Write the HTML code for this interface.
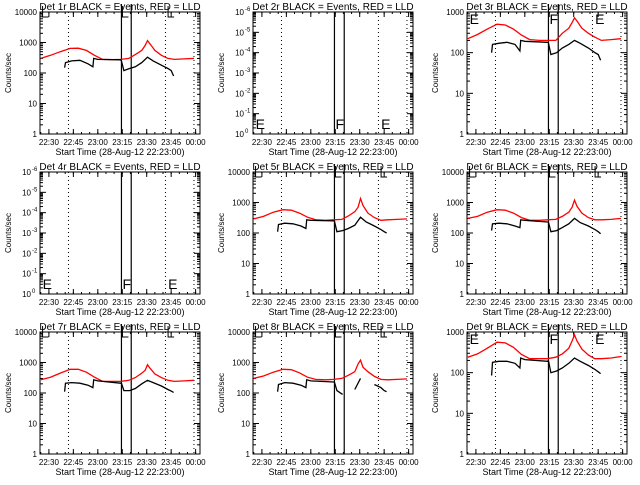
<!DOCTYPE html>
<html><head><meta charset="utf-8"><style>
html,body{margin:0;padding:0;background:#fff;}
svg text{font-family:"Liberation Sans",sans-serif;}
</style></head><body>
<svg id="fig" width="640" height="480" viewBox="0 0 640 480" xmlns="http://www.w3.org/2000/svg"></svg>
<script>
const tickTimes = [7, 22, 37, 52, 67, 82, 97];
const tickLabels = ["22:30", "22:45", "23:00", "23:15", "23:30", "23:45", "00:00"];
const dottedTimes = [19, 78.5, 96];
const solidTimes = [51.5, 57.5];
const blackTimes = [16.6, 17.2, 21, 26, 31, 34, 34.5, 37, 51, 51.5, 53, 56.5, 60, 64, 67.5, 71, 76, 80, 82, 83.5];
const redTimes = [2, 8, 14, 20, 25, 30, 35, 40, 46, 51, 56, 60, 64, 66, 67.5, 69, 72, 76, 80, 84, 90, 96];
const detNames = ["1r","2r","3r","4r","5r","6r","7r","8r","9r"];
const detDecades = [4, 0, 3, 0, 4, 4, 4, 4, 3];
const black1 = [150,220,250,260,200,160,300,280,270,250,120,140,160,220,330,250,180,140,120,80];
const black3 = [100,160,170,180,160,110,200,190,180,175,90,100,130,160,200,170,130,100,90,65];
const black5 = [110,190,210,200,170,140,270,260,250,250,110,120,140,180,330,230,170,130,110,100];
const black6 = [120,200,210,200,170,150,270,260,230,230,110,120,150,200,300,220,170,130,110,95];
const black7 = [110,210,220,210,180,150,270,250,210,210,120,120,140,200,260,220,170,130,115,105];
const black8 = [110,190,220,210,180,150,270,250,230,230,120,90,null,130,300,null,190,150,120,110];
const black9 = [85,180,190,190,170,130,230,210,190,200,100,110,130,170,230,190,150,120,105,95];
const red1 = [300,380,500,640,650,550,380,280,275,280,300,400,550,800,1150,900,550,380,300,280,290,300];
const red3 = [220,280,380,500,480,380,270,210,200,200,200,300,400,550,720,600,400,300,240,200,210,220];
const red5 = [290,350,480,580,560,450,330,270,260,270,280,360,500,700,1350,800,450,320,260,270,280,290];
const red6 = [300,350,480,580,560,450,320,260,260,270,280,350,480,700,1200,750,450,320,270,270,280,300];
const red7 = [270,330,450,600,600,480,330,240,240,240,260,320,450,550,850,650,420,320,260,240,250,260];
const red8 = [300,360,480,600,580,460,330,280,270,280,300,380,500,900,1200,700,500,350,280,270,280,290];
const red9 = [240,290,400,560,540,420,280,220,220,220,240,290,400,600,850,600,380,270,220,220,230,250];
const blackSeries = [black1,null,black3,null,black5,black6,black7,black8,black9];
const redSeries = [red1,null,red3,null,red5,red6,red7,red8,red9];

const NS = "http://www.w3.org/2000/svg";
const svg = document.getElementById("fig");
const BL=40, BR=200, BT=12, BB=134;
function mk(tag, attrs, parent){const e=document.createElementNS(NS,tag);for(const k in attrs)e.setAttribute(k,attrs[k]);parent.appendChild(e);return e;}
function xOf(t){return 37.5 + t*1.63;}

for(let p=0;p<9;p++){
  const col=p%3,row=Math.floor(p/3);
  const ox=[0,213,427][col], oy=row*160;
  const dec=detDecades[p];
  const yOf = v => BB - Math.log10(v)/dec*(BB-BT);
  const g=mk("g",{transform:`translate(${ox},${oy})`},svg);
  
  
  const clipId="clip"+p;
  const cp=mk("clipPath",{id:clipId},g);
  mk("rect",{x:BL,y:BT,width:BR-BL,height:BB-BT},cp);
  const title=mk("text",{x:120,y:10,"font-size":"10","text-anchor":"middle"},g);
  title.textContent=`Det ${detNames[p]} BLACK = Events, RED = LLD`;
  
  
  const yt=mk("text",{x:0,y:0,"font-size":"8","text-anchor":"middle",transform:"translate(11,73) rotate(-90)"},g);
  yt.textContent="Counts/sec";
  
  
  const xt=mk("text",{x:120,y:155,"font-size":"9","text-anchor":"middle"},g);
  xt.textContent="Start Time (28-Aug-12 22:23:00)";
  
  
  // x ticks
  for(let t=2;t<=100;t+=5){const x=xOf(t);if(x<BL||x>BR)continue;
    mk("line",{x1:x,y1:BB,x2:x,y2:BB-2,stroke:"#000"},g);mk("line",{x1:x,y1:BT,x2:x,y2:BT+2,stroke:"#000"},g);}
  tickTimes.forEach((t,i)=>{const x=xOf(t);
    mk("line",{x1:x,y1:BB,x2:x,y2:BB-5,stroke:"#000"},g);mk("line",{x1:x,y1:BT,x2:x,y2:BT+5,stroke:"#000"},g);
    const tl=mk("text",{x:x,y:145,"font-size":"8","text-anchor":"middle"},g);tl.textContent=tickLabels[i];
    
    });
  // y ticks
  if(dec>0){
    for(let d=0;d<=dec;d++){const y=yOf(Math.pow(10,d));
      mk("line",{x1:BL,y1:y,x2:BL+6,y2:y,stroke:"#000"},g);mk("line",{x1:BR,y1:y,x2:BR-6,y2:y,stroke:"#000"},g);
      const lab=mk("text",{x:37,y:y+3,"font-size":"8","text-anchor":"end"},g);lab.textContent=String(Math.pow(10,d));
      
      
      if(d<dec)for(let m=2;m<10;m++){const ym=yOf(m*Math.pow(10,d));
        mk("line",{x1:BL,y1:ym,x2:BL+3,y2:ym,stroke:"#000"},g);mk("line",{x1:BR,y1:ym,x2:BR-3,y2:ym,stroke:"#000"},g);}}
  } else {
    for(let d=0;d<=6;d++){const y=BB-d*(BB-BT)/6;
      mk("line",{x1:BL,y1:y,x2:BL+6,y2:y,stroke:"#000"},g);mk("line",{x1:BR,y1:y,x2:BR-6,y2:y,stroke:"#000"},g);
      const lab=mk("text",{x:31,y:y+3,"font-size":"8","text-anchor":"end"},g);lab.textContent="10";
      
      
      const sup=mk("text",{x:32,y:y-1,"font-size":"6"},g);sup.textContent=d===0?"0":"-"+d;
      if(d<6)for(let m=1;m<9;m++){const ym=y-(BB-BT)/6*Math.log10(m+1);
        mk("line",{x1:BL,y1:ym,x2:BL+3,y2:ym,stroke:"#000"},g);mk("line",{x1:BR,y1:ym,x2:BR-3,y2:ym,stroke:"#000"},g);}}
  }
  // box
  const box=mk("rect",{x:BL,y:BT,width:BR-BL,height:BB-BT,fill:"none",stroke:"#000","stroke-width":"1"},g);
  
  
  dottedTimes.forEach(t=>{const x=xOf(t);const l=mk("line",{x1:x,y1:BT,x2:x,y2:BB,stroke:"#000","stroke-dasharray":"1,3"},g);
    
    });
  solidTimes.forEach(t=>{const x=xOf(t);const l=mk("line",{x1:x,y1:dec>0?4:BT,x2:x,y2:BB,stroke:"#000","stroke-width":"1.2"},g);
    
    });
  // E F E markers
  const mt=[2.5,51.5,79.5], ml=["E","F","E"];
  mt.forEach((t,i)=>{const x=xOf(t)+1;
    if(dec===4){mk("path",{d:`M${x} 6 V17 H${x+6}`,fill:"none",stroke:"#000"},g);}
    else {const yy=dec===0?129:24;const m=mk("text",{x:x,y:yy,"font-size":"14"},g);m.textContent=ml[i];
      
      }});
  // data
  if(blackSeries[p]){
    const dg=mk("g",{"clip-path":`url(#${clipId})`},g);
    const mkLine=(times,vals,color,name)=>{let segs=[],cur=[];
      vals.forEach((v,i)=>{if(v==null){if(cur.length)segs.push(cur);cur=[];}else cur.push(xOf(times[i]).toFixed(1)+","+yOf(v).toFixed(1));});
      if(cur.length)segs.push(cur);
      segs.forEach(s=>{const pl=mk("polyline",{points:s.join(" "),fill:"none",stroke:color,"stroke-width":"1.3"},dg);
        
        });};
    mkLine(redTimes,redSeries[p],"#ff0000","lld-series-line");
    mkLine(blackTimes,blackSeries[p],"#000000","events-series-line");
  }
}
</script>
</body></html>
